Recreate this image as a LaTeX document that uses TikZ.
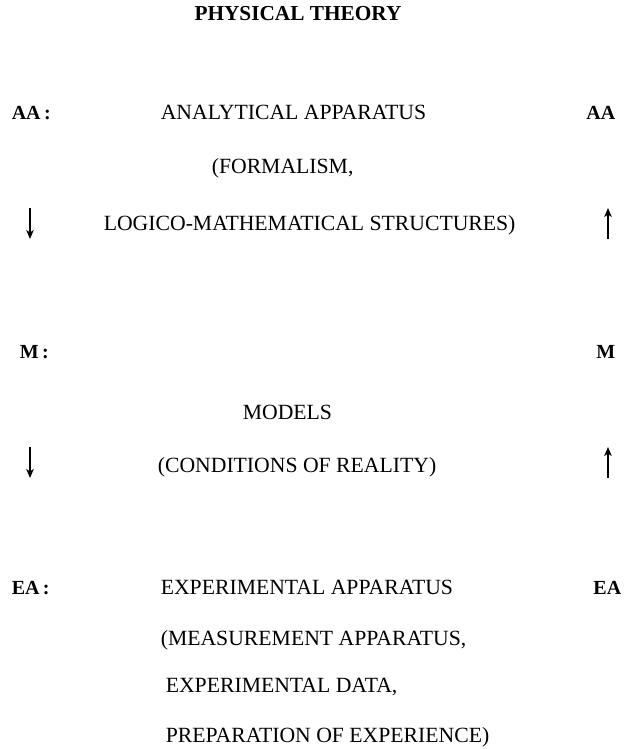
\documentclass[tikz,border=0pt]{standalone}
\usepackage{fontspec}
\setmainfont{Liberation Serif}
\usepackage{tikz}
\usetikzlibrary{arrows.meta,positioning}

\begin{document}
\begin{tikzpicture}[x=1pt,y=-1pt,>={Stealth[length=9pt,width=7.5pt,inset=2.5pt]},line width=1.6pt,
                    every node/.style={inner sep=0pt,font=\fontsize{21.7}{26}\selectfont}]
  \tikzstyle{lbl}=[anchor=base west,font=\fontsize{20}{24}\selectfont\bfseries]
  \tikzstyle{rlbl}=[anchor=base east,font=\fontsize{20}{24}\selectfont\bfseries]
  \tikzstyle{txt}=[anchor=base west]

  \useasboundingbox (0,0) rectangle (628,749);

  \node[anchor=base,font=\fontsize{21.3}{26}\selectfont\bfseries] (title) at (298,21) {PHYSICAL THEORY};

  % analytical apparatus
  \node[lbl]  (aa)  at (11,120)  {AA\,:};
  \node[rlbl] (aa') at (616,120) {AA};
  \node[txt]  (aa1) at (160,120) {ANALYTICAL APPARATUS};
  \node[txt]  (aa2) at (211,173) {(FORMALISM,};
  \node[txt]  (aa3) at (103,230) {LOGICO-MATHEMATICAL STRUCTURES)};

  % models
  \node[lbl]  (m)  at (19,358)  {M\,:};
  \node[rlbl] (m') at (616,358) {M};
  \node[txt]  (m1) at (242,419) {MODELS};
  \node[txt]  (m2) at (157,472) {(CONDITIONS OF REALITY)};

  % experimental apparatus
  \node[lbl]  (ea)  at (11,594)  {EA\,:};
  \node[rlbl] (ea') at (622,594) {EA};
  \node[txt]  (ea1) at (160,594) {EXPERIMENTAL APPARATUS};
  \node[txt]  (ea2) at (160,645) {(MEASUREMENT APPARATUS,};
  \node[txt]  (ea3) at (165,692) {EXPERIMENTAL DATA,};
  \node[txt]  (ea4) at (165,742) {PREPARATION OF EXPERIENCE)};

  % arrows
  \coordinate (d1a) at (30,208);  \coordinate (d1b) at (30,239);
  \coordinate (u1a) at (608,239); \coordinate (u1b) at (608,208);
  \coordinate (d2a) at (30,447);  \coordinate (d2b) at (30,478);
  \coordinate (u2a) at (608,478); \coordinate (u2b) at (608,447);

  \draw[->] (d1a) -- (d1b);
  \draw[->] (u1a) -- (u1b);
  \draw[->] (d2a) -- (d2b);
  \draw[->] (u2a) -- (u2b);
\end{tikzpicture}
\end{document}
